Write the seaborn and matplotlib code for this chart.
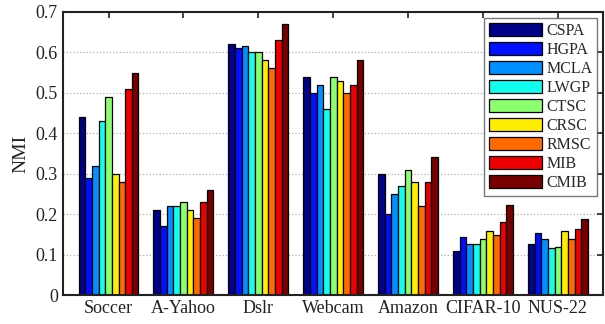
import matplotlib
matplotlib.use("Agg")
import matplotlib.pyplot as plt
import seaborn as sns
import pandas as pd
import numpy as np

datasets = ["Soccer", "A-Yahoo", "Dslr", "Webcam", "Amazon", "CIFAR-10", "NUS-22"]
methods = ["CSPA", "HGPA", "MCLA", "LWGP", "CTSC", "CRSC", "RMSC", "MIB", "CMIB"]
CSPA = [0.44, 0.21, 0.62, 0.54, 0.30, 0.109, 0.125]
HGPA = [0.29, 0.17, 0.61, 0.50, 0.20, 0.143, 0.154]
MCLA = [0.32, 0.22, 0.615, 0.52, 0.25, 0.127, 0.138]
LWGP = [0.43, 0.22, 0.60, 0.46, 0.27, 0.127, 0.116]
CTSC = [0.49, 0.23, 0.60, 0.54, 0.31, 0.138, 0.118]
CRSC = [0.30, 0.21, 0.58, 0.53, 0.28, 0.158, 0.158]
RMSC = [0.28, 0.19, 0.56, 0.50, 0.22, 0.148, 0.139]
MIB = [0.51, 0.23, 0.63, 0.52, 0.28, 0.180, 0.162]
CMIB = [0.55, 0.26, 0.67, 0.58, 0.34, 0.223, 0.187]
series = [CSPA, HGPA, MCLA, LWGP, CTSC, CRSC, RMSC, MIB, CMIB]

rows = []
for m, vals in zip(methods, series):
    for d, v in zip(datasets, vals):
        rows.append({"Dataset": d, "Method": m, "NMI": v})
df = pd.DataFrame(rows)

sns.set_style("white")
plt.rcParams["font.family"] = ["Liberation Serif", "DejaVu Serif"]

palette = ["#000088", "#0010FF", "#0090FF", "#10FFEE", "#8CFF6E",
           "#FFEE00", "#FF6A00", "#EE0000", "#780000"]

fig = plt.figure(figsize=(6.05, 3.24), dpi=100)
ax = fig.add_axes([0.1035, 0.0895, 0.893, 0.874])
sns.barplot(data=df, x="Dataset", y="NMI", hue="Method", order=datasets,
            hue_order=methods, palette=palette, width=0.8, saturation=1,
            edgecolor="black", linewidth=0.9, ax=ax, errorbar=None)

ax.set_xlim(-0.613, 6.6)
ax.set_ylim(0, 0.7)
ax.set_yticks(np.arange(0, 0.71, 0.1))
ax.set_yticklabels(["0", "0.1", "0.2", "0.3", "0.4", "0.5", "0.6", "0.7"])
ax.set_xlabel("")
ax.set_ylabel("NMI", fontsize=14, color="#222222", labelpad=4)
ax.yaxis.grid(True, linestyle=":", color="#b0b0b0", linewidth=0.9)
ax.set_axisbelow(True)
ax.tick_params(axis="both", direction="in", length=4, width=1.2, labelsize=13,
               top=True, right=True, colors="#222222")
ax.tick_params(axis="both", labelcolor="#222222")
for s in ax.spines.values():
    s.set_visible(True)
    s.set_color("#222222")
    s.set_linewidth(1.5)

leg = ax.legend(loc="upper right", bbox_to_anchor=(0.99, 0.977), fontsize=11.5,
                frameon=True, fancybox=False, edgecolor="#555555",
                handlelength=3.3, handleheight=0.9, labelspacing=0.18,
                handletextpad=0.3, borderpad=0.3, borderaxespad=0.0)
leg.get_frame().set_linewidth(1.0)

fig.savefig("out.png", dpi=100)
